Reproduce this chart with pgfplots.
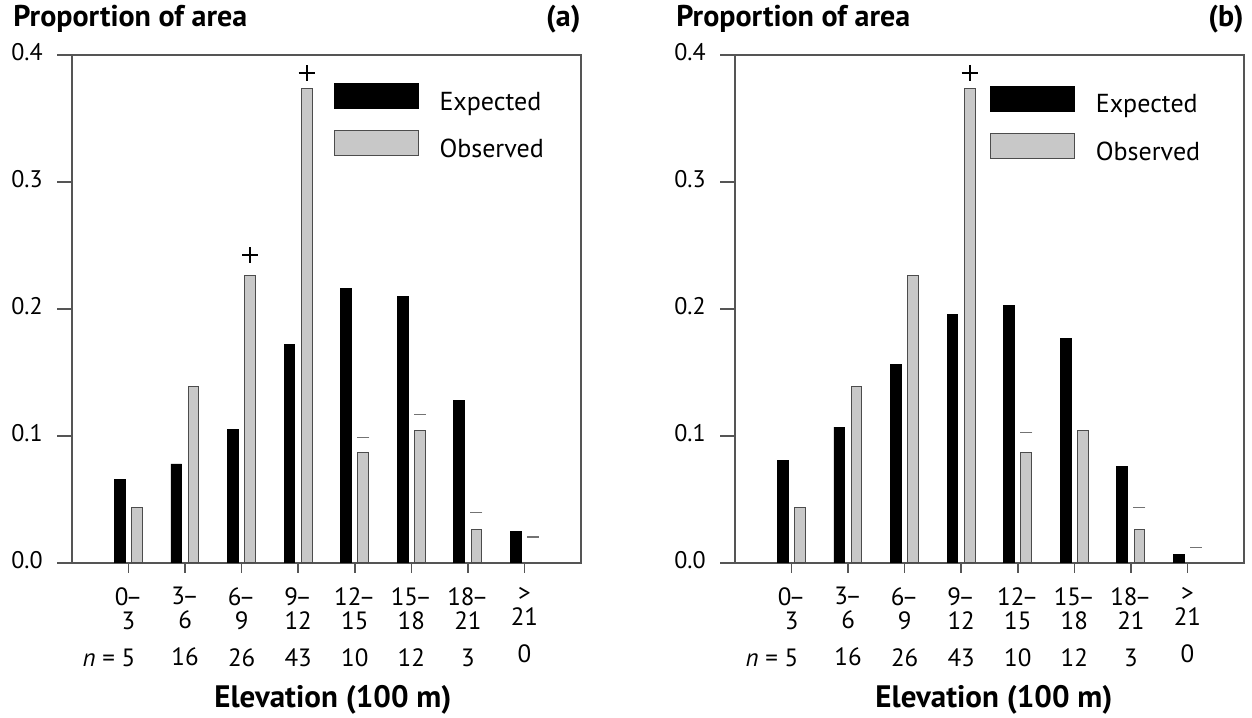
\documentclass[border=0pt]{standalone}
\usepackage{fontspec}
\setmainfont{PT Sans}
\usepackage{pgfplots}
\pgfplotsset{compat=1.18}
\definecolor{obsgray}{RGB}{200,200,200}
\definecolor{axisgray}{RGB}{85,85,85}
\newcommand{\D}{\kern-1.3pt–}

\pgfplotsset{
  panel/.style={
    width=254.5pt, height=254pt, scale only axis,
    xmin=-1, xmax=8, ymin=0, ymax=0.4,
    axis line style={axisgray, line width=0.75pt},
    tick style={axisgray, line width=0.75pt},
    tick align=outside,
    xtick pos=left, ytick pos=left,
    major tick length=7.5pt,
    xtick style={/pgfplots/major tick length=5pt},
    xtick={0,...,7},
    ytick={0,0.1,0.2,0.3,0.4},
    yticklabels={0.0,0.1,0.2,0.3,0.4},
    xticklabels={
      {0\D\\3\\[6.5pt]\llap{\textit{n} =\ }5},
      {3\D\\6\\[6.5pt]16},
      {6\D\\9\\[6.5pt]26},
      {9\D\\12\\[6.5pt]43},
      {12\D\\15\\[6.5pt]10},
      {15\D\\18\\[6.5pt]12},
      {18\D\\21\\[6.5pt]3},
      {>\\21\\[6.5pt]0}},
    xticklabel style={align=center, font=\fontsize{12.5}{12}\selectfont, anchor=north, inner sep=0pt, yshift=-4.5pt},
    yticklabel style={font=\fontsize{12}{12}\selectfont, anchor=east, inner sep=0pt, xshift=-7pt, yshift=1.5pt},
    legend style={draw=none, fill=none, anchor=north west, inner sep=0pt,
      font=\fontsize{13}{15}\selectfont, legend cell align=left,
      nodes={inner sep=0pt}, row sep=8.5pt,
      /tikz/every odd column/.append style={column sep=10.5pt}},
  },
  expbar/.style={ybar, bar width=0.19, bar shift=-0.155, fill=black, draw=black, line width=0.4pt,
    legend image code/.code={\draw[fill=black,draw=black] (0pt,-3pt) rectangle (42pt,9.5pt);}},
  obsbar/.style={ybar, bar width=0.19, bar shift=0.15, fill=obsgray, draw=black!70, line width=0.5pt,
    legend image code/.code={\draw[fill=obsgray,draw=black!70,line width=0.5pt] (0pt,-3pt) rectangle (42pt,9.5pt);}},
  plusmk/.style={only marks, mark=+, mark size=4pt, mark options={line width=1pt, draw=black}, forget plot},
  minusmk/.style={only marks, mark=-, mark size=3pt, mark options={line width=0.6pt, draw=black!55}, forget plot},
}

\begin{document}
\begin{tikzpicture}
\path[use as bounding box] (0,0) rectangle (626pt,358.5pt);

% ---------- panel (a) ----------
\begin{axis}[panel, at={(36pt,77pt)}, anchor=south west,
  legend style={at={(0.513,0.945)}}]
\addplot[expbar] coordinates {(0,0.066) (1,0.078) (2,0.105) (3,0.172) (4,0.216) (5,0.210) (6,0.128) (7,0.025)};
\addlegendentry{Expected}
\addplot[obsbar] coordinates {(0,0.0435) (1,0.139) (2,0.226) (3,0.374) (4,0.087) (5,0.104) (6,0.026)};
\addlegendentry{Observed}
\addplot[plusmk] coordinates {(2.15,0.2425) (3.15,0.3855)};
\addplot[minusmk] coordinates {(4.15,0.099) (5.15,0.117) (6.15,0.040) (7.15,0.0205)};
\end{axis}

% ---------- panel (b) ----------
\begin{axis}[panel, at={(367.5pt,77pt)}, anchor=south west,
  legend style={at={(0.50,0.94)}}]
\addplot[expbar] coordinates {(0,0.081) (1,0.107) (2,0.1565) (3,0.196) (4,0.2025) (5,0.1765) (6,0.076) (7,0.007)};
\addlegendentry{Expected}
\addplot[obsbar] coordinates {(0,0.0435) (1,0.139) (2,0.226) (3,0.374) (4,0.087) (5,0.104) (6,0.026)};
\addlegendentry{Observed}
\addplot[plusmk] coordinates {(3.15,0.386)};
\addplot[minusmk] coordinates {(4.15,0.103) (6.15,0.044) (7.15,0.0125)};
\end{axis}

% titles and axis labels
\node[anchor=base west, inner sep=0pt, font=\bfseries\fontsize{15}{16}\selectfont] at (6.5pt,345pt) {Proportion of area};
\node[anchor=base east, inner sep=0pt, font=\bfseries\fontsize{15}{16}\selectfont] at (290.5pt,345pt) {(a)};
\node[anchor=base west, inner sep=0pt, font=\bfseries\fontsize{15}{16}\selectfont] at (338pt,345pt) {Proportion of area};
\node[anchor=base east, inner sep=0pt, font=\bfseries\fontsize{15}{16}\selectfont] at (622pt,345pt) {(b)};
\node[anchor=base, inner sep=0pt, font=\bfseries\fontsize{15.5}{18}\selectfont] at (166.5pt,5pt) {Elevation (100 m)};
\node[anchor=base, inner sep=0pt, font=\bfseries\fontsize{15.5}{18}\selectfont] at (497pt,5pt) {Elevation (100 m)};
\end{tikzpicture}
\end{document}
